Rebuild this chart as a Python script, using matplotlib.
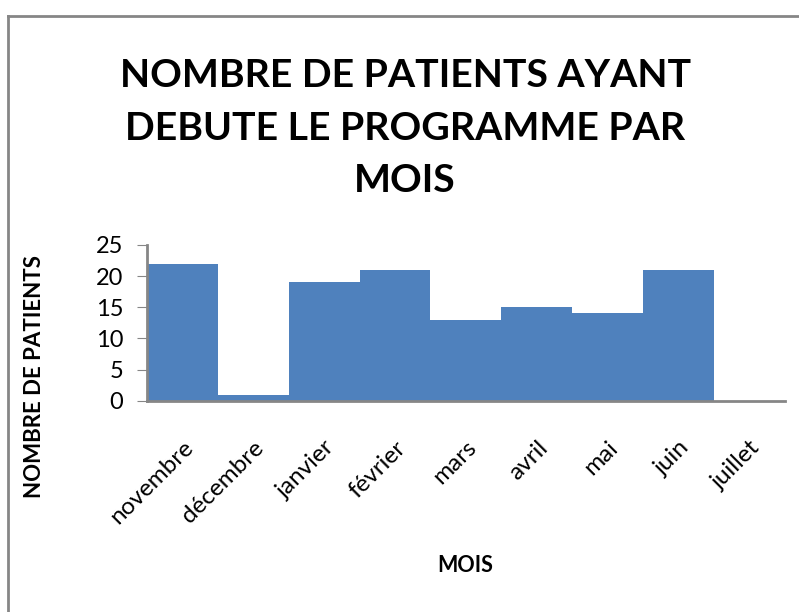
import numpy as np
import matplotlib.pyplot as plt
from matplotlib.lines import Line2D

# data to plot
mois = ['novembre', 'décembre', 'janvier', 'février', 'mars',
        'avril', 'mai', 'juin', 'juillet']
patients = [22, 1, 19, 21, 13, 15, 14, 21, 0]

plt.rcParams['font.family'] = ['Lato', 'DejaVu Sans']

fig = plt.figure(figsize=(7.99, 6.12), dpi=100)
ax = fig.add_axes([0.184, 0.345, 0.798, 0.255])

index = np.arange(len(mois))
ax.bar(index, patients, width=1.0, color='#4f81bd')

ax.set_xlim(-0.5, len(mois) - 0.5)
ax.set_ylim(0, 25)
ax.set_yticks([0, 5, 10, 15, 20, 25])
ax.set_xticks(index)
ax.set_xticklabels(mois, rotation=45, ha='right', va='top',
                   rotation_mode='anchor', fontsize=17.5)
ax.tick_params(axis='x', length=0, pad=26)
ax.tick_params(axis='y', labelsize=17, length=7, color='#868686', pad=10)

for side in ['top', 'right']:
    ax.spines[side].set_visible(False)
for side in ['left', 'bottom']:
    ax.spines[side].set_color('#868686')
    ax.spines[side].set_linewidth(2)

fig.text(35 / 799, 1 - 377 / 612, 'NOMBRE DE PATIENTS', rotation=90, ha='center', va='center',
         fontsize=16, fontweight='bold')
fig.text(465 / 799, 1 - 565 / 612, 'MOIS', ha='center', va='center', fontsize=15.5, fontweight='bold')

fig.text(0.507, 1 - 128 / 612, 'NOMBRE DE PATIENTS AYANT\nDEBUTE LE PROGRAMME PAR\nMOIS',
         ha='center', va='center', fontsize=28.3, fontweight='bold', linespacing=1.6)

# outer frame (left and top edges visible)
fig.add_artist(Line2D([8 / 799, 8 / 799], [0, 1 - 16 / 612], transform=fig.transFigure,
                      color='#868686', linewidth=2))
fig.add_artist(Line2D([8 / 799, 1], [1 - 16 / 612, 1 - 16 / 612], transform=fig.transFigure,
                      color='#868686', linewidth=2))

plt.savefig('out.png')
